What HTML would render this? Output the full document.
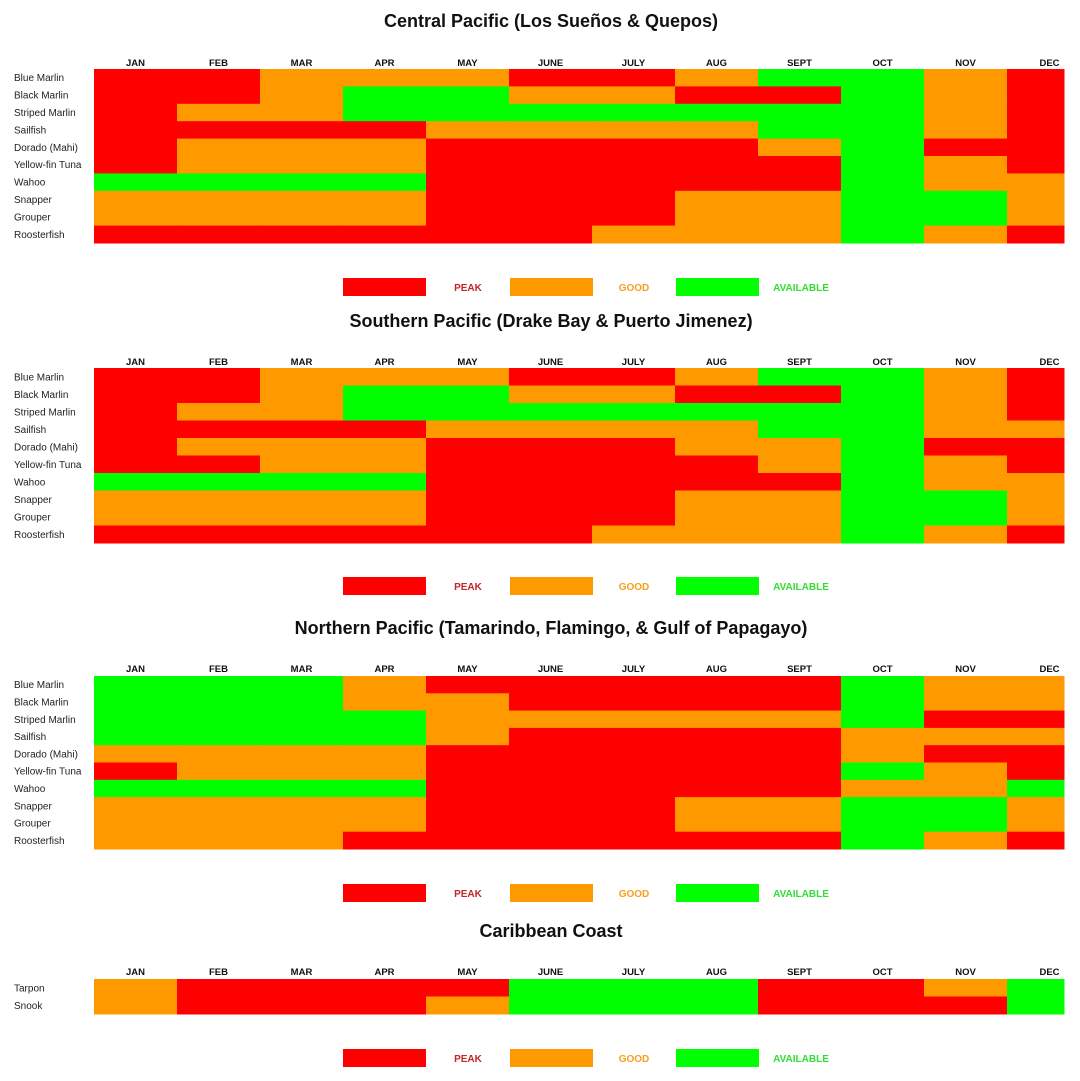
<!DOCTYPE html>
<html><head><meta charset="utf-8"><style>
body{margin:0;background:#fff;font-family:"Liberation Sans",sans-serif}
svg{display:block}
</style></head><body>
<svg id="c" width="1080" height="1081" viewBox="0 0 1080 1081" xmlns="http://www.w3.org/2000/svg"></svg>
<script>
const months = ["JAN","FEB","MAR","APR","MAY","JUNE","JULY","AUG","SEPT","OCT","NOV","DEC"];
const species = ["Blue Marlin","Black Marlin","Striped Marlin","Sailfish","Dorado (Mahi)","Yellow-fin Tuna","Wahoo","Snapper","Grouper","Roosterfish"];
const caribSpecies = ["Tarpon","Snook"];
const titles = ["Central Pacific (Los Sueños & Quepos)","Southern Pacific (Drake Bay & Puerto Jimenez)","Northern Pacific (Tamarindo, Flamingo, & Gulf of Papagayo)","Caribbean Coast"];
const central = [
"PPGGGPPGAAGP","PPGAAGGPPAGP","PGGAAAAAAAGP","PPPPGGGGAAGP","PGGGPPPPGAPP",
"PGGGPPPPPAGP","AAAAPPPPPAGG","GGGGPPPGGAAG","GGGGPPPGGAAG","PPPPPPGGGAGP"];
const southern = [
"PPGGGPPGAAGP","PPGAAGGPPAGP","PGGAAAAAAAGP","PPPPGGGGAAGG","PGGGPPPGGAPP",
"PPGGPPPPGAGP","AAAAPPPPPAGG","GGGGPPPGGAAG","GGGGPPPGGAAG","PPPPPPGGGAGP"];
const northern = [
"AAAGPPPPPAGG","AAAGGPPPPAGG","AAAAGGGGGAPP","AAAAGPPPPGGG","GGGGPPPPPGPP",
"PGGGPPPPPAGP","AAAAPPPPPGGA","GGGGPPPGGAAG","GGGGPPPGGAAG","GGGPPPPPPAGP"];
const caribbean = ["GPPPPAAAPPGA","GPPPGAAAPPPA"];
const levels = {P:"PEAK",G:"GOOD",A:"AVAILABLE"};

const colors = {P:"#ff0000",G:"#ff9900",A:"#00ff00"};
const labelColors = {P:"#c0262a",G:"#f5a020",A:"#33dd33"};
const svg = document.getElementById('c');
const NS = "http://www.w3.org/2000/svg";
const colEdges = [94,177,260,343,426,509,592,675,758,841,924,1007,1064];
function xL(i){return colEdges[i];}
function xR(i){return colEdges[i+1];}
function mk(tag, attrs, parent){const e=document.createElementNS(NS,tag);for(const k in attrs)e.setAttribute(k,attrs[k]);(parent||svg).appendChild(e);return e;}

const panels = [
 {title:titles[0], titleY:27, monthY:66, top:69, bottom:243, legY:278, rows:species, data:central},
 {title:titles[1], titleY:327, monthY:365, top:368, bottom:543, legY:577, rows:species, data:southern},
 {title:titles[2], titleY:634, monthY:672, top:676, bottom:849, legY:884, rows:species, data:northern},
 {title:titles[3], titleY:937, monthY:975, top:979, bottom:1014, legY:1049, rows:caribSpecies, data:caribbean}
];
panels.forEach((p,pi)=>{
  const g = mk('g',{});
  
  
  const t = mk('text',{x:551,y:p.titleY,'text-anchor':'middle','font-size':'18','font-weight':'bold',fill:'#111'},g);
  
  
  t.textContent = p.title;
  months.forEach((m,i)=>{
    const e = mk('text',{x:(xL(i)+xR(i))/2+ (i==11?14:0),y:p.monthY,'text-anchor':'middle','font-size':'9.5','font-weight':'bold',fill:'#111'},g);
    
    
    e.textContent = m;
  });
  const rh = (p.bottom-p.top)/p.rows.length;
  p.rows.forEach((r,ri)=>{
    const y0 = p.top+ri*rh;
    const lab = mk('text',{x:14,y:y0+rh/2+3.5,'font-size':'10',fill:'#222'},g);
    
    
    lab.textContent = r;
    for(let i=0;i<12;i++){
      const v = p.data[ri][i];
      const c = mk('rect',{x:xL(i),y:y0,width:xR(i)-xL(i)+0.5,height:rh+0.5,fill:colors[v]},g);
      
      
    }
  });
  const legX = [343,510,676], labX=[468,634,801];
  ["P","G","A"].forEach((k,i)=>{
    const b = mk('rect',{x:legX[i],y:p.legY,width:83,height:18,fill:colors[k]},g);
    
    
    const l = mk('text',{x:labX[i],y:p.legY+13,'text-anchor':'middle','font-size':'10','font-weight':'bold',fill:labelColors[k]},g);
    
    
    l.textContent = levels[k];
  });
});
</script>
</body></html>
